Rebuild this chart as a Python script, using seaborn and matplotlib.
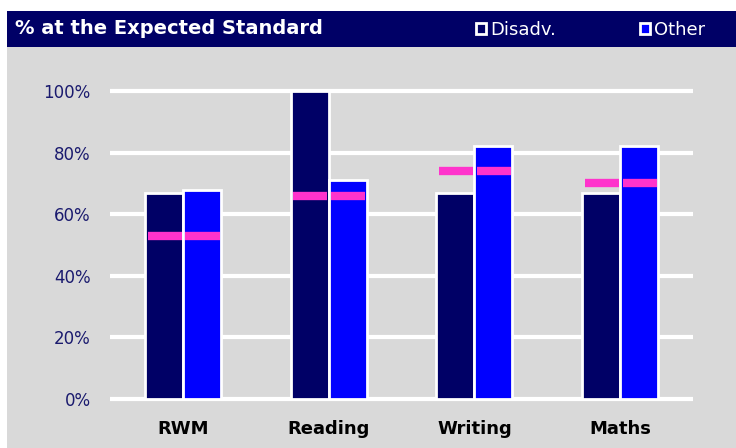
import matplotlib.pyplot as plt
import seaborn as sns
import pandas as pd
import numpy as np
from matplotlib.patches import Rectangle, Patch

subjects = ["RWM", "Reading", "Writing", "Maths"]
disadv = [67, 100, 67, 67]
other = [68, 71, 82, 82]
national = [53, 66, 74, 70]
groups = ["Disadv.", "Other"]
yticks = [0, 20, 40, 60, 80, 100]

navy = "#000066"
blue = "#0000FF"
pink = "#FF33CC"
panel = "#D9D9D9"

df = pd.DataFrame({
    "subject": subjects * 2,
    "group": [groups[0]] * len(subjects) + [groups[1]] * len(subjects),
    "value": disadv + other,
})

sns.set_style("white")
plt.rcParams['font.family'] = ['DejaVu Sans']

fig = plt.figure(figsize=(7.36, 4.48), dpi=100)
fig.patch.set_facecolor("white")

# grey panel and header band, kept behind the axes
fig.patches.append(Rectangle((7 / 736, 0), 1, 1 - 47 / 448, transform=fig.transFigure,
                             facecolor=panel, edgecolor="none", zorder=-2))
fig.patches.append(Rectangle((7 / 736, 1 - 47 / 448), 1, 36 / 448, transform=fig.transFigure,
                             facecolor=navy, edgecolor="none", zorder=-2))
fig.text(15 / 736, 1 - 29 / 448, "% at the Expected Standard", color="white",
         fontsize=14, fontweight="bold", va="center", ha="left")

ax = fig.add_axes([110 / 736, 0.0991, 583 / 736, 0.732])
ax.set_facecolor(panel)

sns.barplot(data=df, x="subject", y="value", hue="group", order=subjects,
            hue_order=groups, palette=[navy, blue], width=0.52, gap=0,
            saturation=1, edgecolor="white", linewidth=2, legend=False, ax=ax, zorder=3)

# national comparison markers
half = 0.117
for i, v in enumerate(national):
    for off in (-0.125, 0.135):
        c = i + off
        ax.plot([c - half, c + half], [v, v], color=pink, lw=6,
                solid_capstyle="butt", zorder=4)

ax.set_xlim(-0.5, 3.5)
ax.set_ylim(-1.5, 105)
ax.set_yticks(yticks)
ax.set_yticklabels([f"{t}%" for t in yticks], color="#1a1a6e", fontsize=12)
ax.set_xticks(range(len(subjects)))
ax.set_xticklabels(subjects, fontsize=13, fontweight="bold", color="black")
ax.tick_params(axis="x", length=0, pad=12)
ax.tick_params(axis="y", length=0, pad=14)
ax.set_xlabel("")
ax.set_ylabel("")
for t in yticks:
    ax.axhline(t, color="white", lw=3, zorder=1)
sns.despine(ax=ax, left=True, bottom=True)

handles = [Patch(facecolor=navy, edgecolor="white", lw=2),
           Patch(facecolor=blue, edgecolor="white", lw=2)]
leg = fig.legend(handles, groups, loc="center left", bbox_to_anchor=(460 / 736, 1 - 30 / 448),
                 ncol=2, frameon=False, fontsize=13, handlelength=0.55, handleheight=0.55,
                 handletextpad=0.25, columnspacing=4.6, labelcolor="white")

fig.savefig("out.png", dpi=100)
